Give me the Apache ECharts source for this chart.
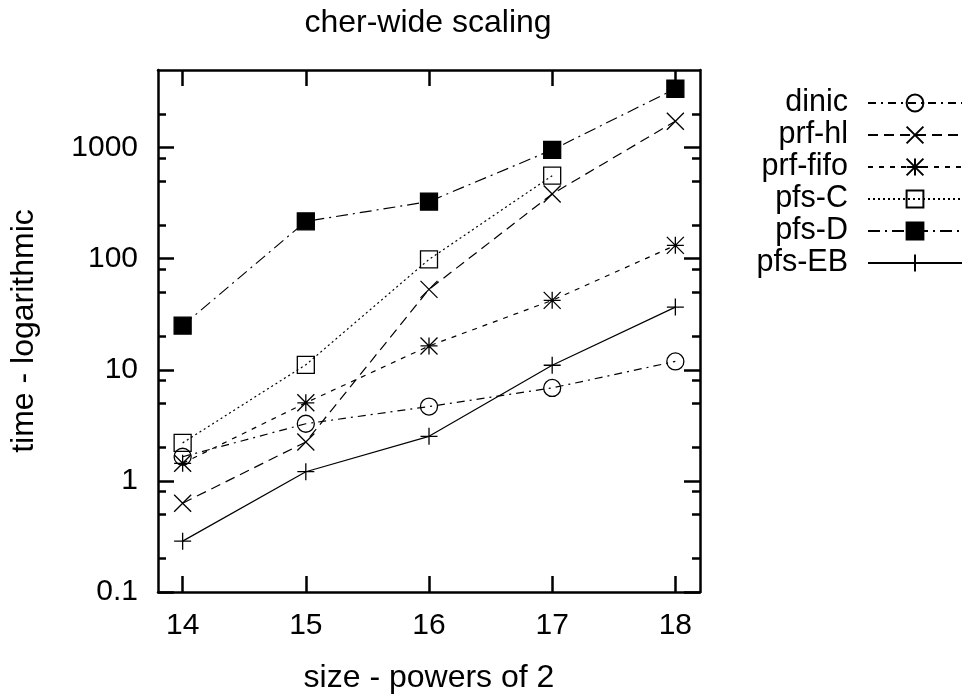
<!DOCTYPE html>
<html>
<head>
<meta charset="utf-8">
<script src="https://cdn.jsdelivr.net/npm/echarts@6/dist/echarts.min.js"></script>
<style>html,body{margin:0;padding:0;background:#fff}#c{width:968px;height:699px}</style>
</head>
<body>
<div id="c"></div>
<script>
// ---- data ----
const sizes = [14, 15, 16, 17, 18];
const dinic   = [1.65, 3.27, 4.67, 6.87, 11.9];
const prfHl   = [0.63, 2.24, 53, 383, 1730];
const prfFifo = [1.44, 5.05, 16.4, 42.2, 132];
const pfsC    = [2.2, 11.1, 98.6, 559];
const pfsD    = [25, 217, 327, 955, 3390];
const pfsEB   = [0.287, 1.21, 2.52, 11.0, 36.7];
const seriesNames = ['dinic', 'prf-hl', 'prf-fifo', 'pfs-C', 'pfs-D', 'pfs-EB'];
const xTicks = [14, 15, 16, 17, 18];
const yMajor = [0.1, 1, 10, 100, 1000];
const yMinor = [0.2, 0.5, 0.8, 2, 5, 8, 20, 50, 80, 200, 500, 800, 2000];
const yMin = 0.1, yMax = 5000;

// ---- chart ----
const FONT = '"Liberation Sans", Arial, Helvetica, sans-serif';
const FS_BIG = 32, FS_TICK = 30, FS_LEG = 30.5;
const chart = echarts.init(document.getElementById('c'), null, {renderer: 'canvas'});
const pair = (ys) => ys.map((v, i) => [sizes[i], v]);
const log10 = (v) => Math.log10(v);

const X_PATH = 'path://M0,0L10,10M10,0L0,10';
const STAR_PATH = 'path://M0,0L10,10M10,0L0,10M5,0L5,10M0,5L10,5';
const PLUS_PATH = 'path://M5,0L5,10M0,5L10,5';

function mk(name, data, symbol, size, filled, dash) {
  return {
    name: name, type: 'line', data: pair(data), xAxisIndex: 0, yAxisIndex: 0,
    symbol: symbol, symbolSize: size, showSymbol: true,
    lineStyle: {color: '#000', width: 1.2, type: dash},
    itemStyle: {color: filled ? '#000' : 'rgba(0,0,0,0)', borderColor: '#000', borderWidth: 1.3},
    emphasis: {disabled: true}, animation: false, z: 3
  };
}

const tickStyle = {color: '#000', width: 2.5};
const option = {
  backgroundColor: '#fff',
  animation: false,
  textStyle: {fontFamily: FONT},
  title: {
    text: 'cher-wide scaling', left: 423, top: 2, textAlign: 'center',
    textStyle: {fontFamily: FONT, fontSize: FS_BIG, fontWeight: 'normal', color: '#000'}
  },
  legend: {
    orient: 'vertical', right: 0, top: 82, align: 'right',
    itemWidth: 94, itemHeight: 21, itemGap: 0,
    data: seriesNames,
    textStyle: {fontFamily: FONT, fontSize: FS_LEG, color: '#000', lineHeight: 32, padding: [0, 15, 0, 0]},
    selectedMode: false
  },
  grid: {left: 156, right: 268, top: 70, bottom: 101, containLabel: false},
  xAxis: [
    {
      type: 'value', min: 13.8, max: 18.2, position: 'bottom',
      name: 'size - powers of 2', nameLocation: 'middle', nameGap: 70,
      nameTextStyle: {fontFamily: FONT, fontSize: FS_BIG, color: '#000'},
      axisLine: {show: true, onZero: false, lineStyle: tickStyle},
      axisTick: {show: true, inside: true, length: 16, lineStyle: tickStyle, customValues: xTicks},
      axisLabel: {show: true, margin: 19, fontFamily: FONT, fontSize: FS_TICK, color: '#000', customValues: xTicks},
      splitLine: {show: false}
    },
    {
      type: 'value', min: 13.8, max: 18.2, position: 'top',
      axisLine: {show: true, onZero: false, lineStyle: tickStyle},
      axisTick: {show: true, inside: true, length: 16, lineStyle: tickStyle, customValues: xTicks},
      axisLabel: {show: false}, splitLine: {show: false}
    }
  ],
  yAxis: [
    {
      type: 'log', logBase: 10, min: yMin, max: yMax, position: 'left',
      name: 'time - logarithmic', nameLocation: 'middle', nameGap: 118,
      nameTextStyle: {fontFamily: FONT, fontSize: FS_BIG, color: '#000'},
      axisLine: {show: true, onZero: false, lineStyle: tickStyle},
      axisTick: {show: false},
      axisLabel: {
        show: true, margin: 20, fontFamily: FONT, fontSize: FS_TICK, color: '#000',
        formatter: function (v) {
          const l = log10(v);
          if (Math.abs(l - Math.round(l)) > 1e-6) return '';
          const r = Math.pow(10, Math.round(l));
          return r < 1 ? r.toFixed(1) : String(Math.round(r));
        }
      },
      splitLine: {show: false}
    },
    {
      type: 'value', min: log10(yMin), max: log10(yMax), position: 'left',
      axisLine: {show: false, onZero: false}, axisLabel: {show: false}, splitLine: {show: false},
      axisTick: {show: true, inside: true, length: 16, lineStyle: tickStyle, customValues: yMajor.map(log10)}
    },
    {
      type: 'value', min: log10(yMin), max: log10(yMax), position: 'left',
      axisLine: {show: false, onZero: false}, axisLabel: {show: false}, splitLine: {show: false},
      axisTick: {show: true, inside: true, length: 8, lineStyle: tickStyle, customValues: yMinor.map(log10)}
    },
    {
      type: 'value', min: log10(yMin), max: log10(yMax), position: 'right',
      axisLine: {show: true, onZero: false, lineStyle: tickStyle}, axisLabel: {show: false}, splitLine: {show: false},
      axisTick: {show: true, inside: true, length: 16, lineStyle: tickStyle, customValues: yMajor.map(log10)}
    },
    {
      type: 'value', min: log10(yMin), max: log10(yMax), position: 'right',
      axisLine: {show: false, onZero: false}, axisLabel: {show: false}, splitLine: {show: false},
      axisTick: {show: true, inside: true, length: 8, lineStyle: tickStyle, customValues: yMinor.map(log10)}
    }
  ],
  series: [
    mk('dinic', dinic, 'circle', 17, false, [8, 5, 2, 5]),
    mk('prf-hl', prfHl, X_PATH, 17, false, [10, 6]),
    mk('prf-fifo', prfFifo, STAR_PATH, 17, false, [5, 6]),
    mk('pfs-C', pfsC, 'rect', 17, false, [2, 3]),
    mk('pfs-D', pfsD, 'rect', 17, true, [12, 5, 2, 5]),
    mk('pfs-EB', pfsEB, PLUS_PATH, 17, false, 'solid')
  ]
};
chart.setOption(option);
</script>
</body>
</html>
